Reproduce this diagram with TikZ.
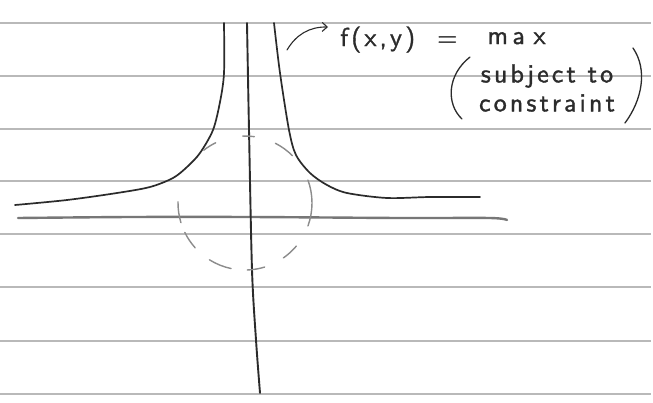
\documentclass[tikz,border=0pt]{standalone}
\usepackage{fontspec}
\newfontfamily\handfont{lmsans10-regular.otf}[LetterSpace=12,FakeBold=1.2]
\usetikzlibrary{arrows.meta}
\definecolor{ruleline}{HTML}{B9B9B9}
\definecolor{pencil}{HTML}{2B2B2B}
\definecolor{axisgray}{HTML}{777777}
\definecolor{dashgray}{HTML}{8C8C8C}

\begin{document}
\begin{tikzpicture}[x=1pt,y=-1pt,
    ink/.style={draw=pencil,line width=1.7pt,line cap=round,line join=round},
    hand/.style={font=\handfont\fontsize{26}{29}\selectfont,text=pencil,inner sep=0pt}]
  \useasboundingbox (0,0) rectangle (653,402);
  \fill[white] (0,0) rectangle (653,402);
  % ruled paper
  \foreach \y in {23,76,129,181,234,287,341,394}
    \draw[ruleline,line width=1.3pt] (0,\y) -- (651,\y);
  % axes
  \draw[axisgray,line width=2.4pt,line cap=round]
    plot[smooth] coordinates {(18,218) (130,217) (250,217) (400,218) (490,218) (507,220)};
  \draw[ink,line width=1.9pt]
    plot[smooth] coordinates {(247,23) (249,130) (252,270) (256,340) (260,393)};
  % level curve of f
  \draw[ink] plot[smooth] coordinates {(224,23) (224,73) (220,102) (213,130) (200,153)
    (187,167) (173,178) (150,187) (117,193) (67,200) (15,205)};
  \draw[ink] plot[smooth] coordinates {(274,23) (280,73) (289,130) (296,155) (310,173)
    (327,185) (347,193) (387,198) (430,197) (480,197)};
  % constraint, dashed circle
  \foreach \a/\b in {-20/20,40/55,73/88,102/122,138/154,163/181,232/244,268/278,297/315}
    \draw[dashgray,line width=1.4pt,line cap=round]
      (245,203) ++(\a:67) arc[start angle=\a,end angle=\b,radius=67];
  % label
  \node[hand,anchor=base west] (fxy) at (340,46)
    {f(x,y)\hspace{22pt}=\hspace{30pt}\raisebox{2pt}{m\,a\,\,x}};
  \node[hand,align=center] (note) at (547,88) {subject to\\constraint};
  \draw[pencil,line width=1.3pt,line cap=round]
    (470,57) .. controls (447,75) and (446,104) .. (462,119);
  \draw[pencil,line width=1.3pt,line cap=round]
    (633,48) .. controls (648,70) and (642,100) .. (625,123);
  \coordinate (touch) at (287,50);
  \coordinate (tip) at (328,27);
  \draw[pencil,line width=1.1pt,line cap=round,-{Straight Barb[length=5pt,width=9pt]}]
    (touch) to[bend left=30] (tip);
\end{tikzpicture}
\end{document}
